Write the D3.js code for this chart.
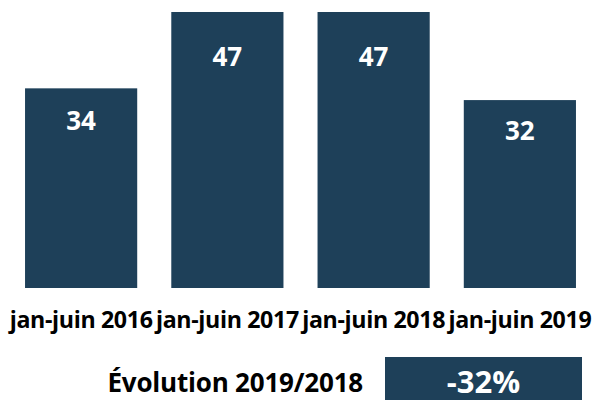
<!DOCTYPE html>
<html>
<head>
<meta charset="utf-8">
<script src="https://cdn.jsdelivr.net/npm/d3@7"></script>
<style>
  body { margin: 0; background: #fff; }
  text { font-family: "Open Sans", Lato, sans-serif; font-weight: bold; }
</style>
</head>
<body>
<svg width="593" height="400"></svg>
<script>
var periods = ["jan-juin 2016", "jan-juin 2017", "jan-juin 2018", "jan-juin 2019"];
var values = [34, 47, 47, 32];
var evolutionLabel = "Évolution 2019/2018";
var evolutionValue = "-32%";

var svg = d3.select("svg"),
    width = +svg.attr("width"),
    height = +svg.attr("height"),
    barColor = "#1e4059";

var x = d3.scaleBand()
    .domain(periods)
    .range([8, 593])
    .paddingInner(0.233)
    .paddingOuter(0.1165);

var y = d3.scaleLinear()
    .domain([0, d3.max(values)])
    .range([288, 12]);

var bar = svg.selectAll(".bar")
    .data(periods.map((p, i) => ({ period: p, value: values[i] })))
    .enter().append("g")
    .attr("class", "bar");

bar.append("rect")
    .attr("x", d => x(d.period))
    .attr("y", d => y(d.value))
    .attr("width", x.bandwidth())
    .attr("height", d => y(0) - y(d.value))
    .attr("fill", barColor);

// value labels sit a bit below the top of each bar
bar.append("text")
    .attr("x", d => x(d.period) + x.bandwidth() / 2)
    .attr("y", d => y(d.value * 0.84))
    .attr("dy", "0.36em")
    .attr("text-anchor", "middle")
    .attr("fill", "#fff")
    .style("font-size", "26px")
    .text(d => d.value);

// category labels
svg.append("g")
    .attr("transform", "translate(0,328)")
    .call(d3.axisBottom(x).tickSize(0).tickPadding(0))
    .call(g => g.select(".domain").remove())
    .selectAll("text")
    .attr("y", 0)
    .attr("dy", 0)
    .attr("fill", "#000")
    .style("font-size", "23.2px")
    .style("letter-spacing", "-0.35px");

// evolution box
svg.append("text")
    .attr("x", 363)
    .attr("y", 392)
    .attr("text-anchor", "end")
    .attr("fill", "#000")
    .style("font-size", "26px")
    .style("letter-spacing", "-0.2px")
    .text(evolutionLabel);

svg.append("rect")
    .attr("x", 385)
    .attr("y", 357)
    .attr("width", 197)
    .attr("height", 43)
    .attr("fill", barColor);

svg.append("text")
    .attr("x", 385 + 197 / 2)
    .attr("y", 393)
    .attr("text-anchor", "middle")
    .attr("fill", "#fff")
    .style("font-size", "31px")
    .text(evolutionValue);
</script>
</body>
</html>
